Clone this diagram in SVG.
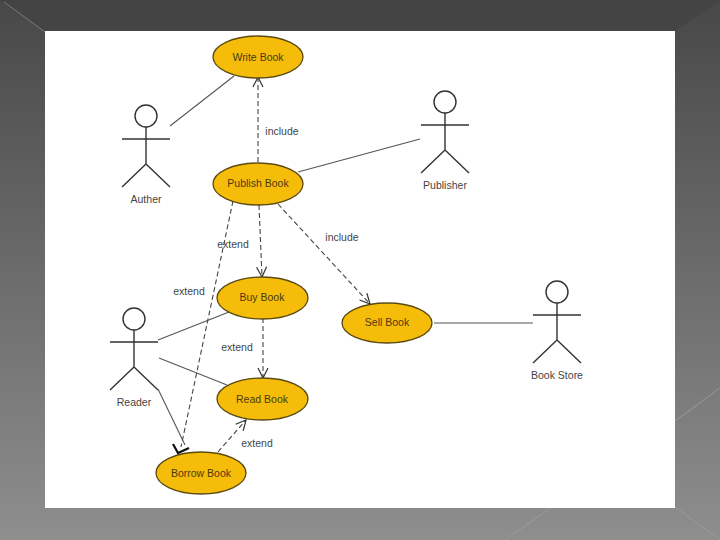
<svg xmlns="http://www.w3.org/2000/svg" width="720" height="540" viewBox="0 0 720 540">
<defs>
<linearGradient id="bg" x1="0" y1="0" x2="0" y2="1"><stop offset="0" stop-color="#484848"/><stop offset="1" stop-color="#8e8e8e"/></linearGradient>
<marker id="open" markerWidth="12" markerHeight="12" refX="11" refY="6" orient="auto" markerUnits="userSpaceOnUse"><path d="M1 1L11 6L1 11" fill="none" stroke="#333" stroke-width="1.2"/></marker>
</defs>
<style>
.uc{fill:#f5bd0a;stroke:#5a4a10;stroke-width:1.3}
.t{font-family:"Liberation Sans",Arial,sans-serif;font-size:10.5px;fill:#444;text-anchor:middle}
.ut{font-family:"Liberation Sans",Arial,sans-serif;font-size:10.5px;fill:#4a3a10;text-anchor:middle}
.a{fill:none;stroke:#333;stroke-width:1.4}
.l{fill:none;stroke:#555;stroke-width:1.1}
.d{fill:none;stroke:#444;stroke-width:1.1;stroke-dasharray:5 3}
.deco{stroke:#9a9a9a;stroke-width:1;fill:none}
</style>
<rect width="720" height="540" fill="url(#bg)"/>
<path d="M0 0H720L675 31H45Z" fill="#444"/>
<path d="M4 2L45 32" class="deco" stroke-opacity=".6"/>
<path d="M675 421L720 388M675 507L720 540M505 540L552 507" class="deco"/>
<rect x="45" y="31" width="630" height="477" fill="#fff"/>
<g id="connectors">
<path class="l" d="M170 126L234 76"/>
<path class="l" d="M298 172L420 139"/>
<path class="l" d="M158 340L229 312"/>
<path class="l" d="M159 358L227 385"/>
<path class="l" d="M158 389L185 445"/>
<path class="l" d="M434 323H533"/>
<path class="d" d="M258 162V77" marker-end="url(#open)"/>
<path class="d" d="M259 205L262 277" marker-end="url(#open)"/>
<path class="d" d="M278 204L370 304" marker-end="url(#open)"/>
<path class="d" d="M263 318V378" marker-end="url(#open)"/>
<path class="d" d="M218 452L246 420" marker-end="url(#open)"/>
<path class="d" d="M233 201L181 447"/>
<path d="M173 444L178 453L189 448" fill="none" stroke="#111" stroke-width="2.2"/>
</g>
<g id="write-book"><ellipse class="uc" cx="258" cy="57" rx="45" ry="21"/><text class="ut" x="258" y="61">Write Book</text></g>
<g id="publish-book"><ellipse class="uc" cx="258" cy="184" rx="45" ry="21"/><text class="ut" x="258" y="187">Publish Book</text></g>
<g id="buy-book"><ellipse class="uc" cx="262.500" cy="298" rx="45.500" ry="21"/><text class="ut" x="262" y="301">Buy Book</text></g>
<g id="read-book"><ellipse class="uc" cx="262.500" cy="399" rx="45.500" ry="21"/><text class="ut" x="262" y="403">Read Book</text></g>
<g id="borrow-book"><ellipse class="uc" cx="201" cy="473" rx="45" ry="21"/><text class="ut" x="201" y="477">Borrow Book</text></g>
<g id="sell-book"><ellipse class="uc" cx="387" cy="323" rx="45" ry="20"/><text class="ut" x="387" y="326">Sell Book</text></g>
<g id="auther"><circle class="a" cx="146" cy="116" r="11"/><path class="a" d="M146 127V164M122 139H170M146 164L122 187M146 164L170 187"/><text class="t" x="146" y="203">Auther</text></g>
<g id="publisher"><circle class="a" cx="445" cy="102" r="11"/><path class="a" d="M445 113V150M421 125H469M445 150L421 173M445 150L469 173"/><text class="t" x="445" y="189">Publisher</text></g>
<g id="reader"><circle class="a" cx="134" cy="319" r="11"/><path class="a" d="M134 330V367M110 342H158M134 367L110 390M134 367L158 390"/><text class="t" x="134" y="406">Reader</text></g>
<g id="book-store"><circle class="a" cx="557" cy="292" r="11"/><path class="a" d="M557 303V340M533 315H581M557 340L533 363M557 340L581 363"/><text class="t" x="557" y="379">Book Store</text></g>
<g id="labels">
<text class="t" x="282" y="135">include</text>
<text class="t" x="233" y="248">extend</text>
<text class="t" x="342" y="241">include</text>
<text class="t" x="189" y="295">extend</text>
<text class="t" x="237" y="351">extend</text>
<text class="t" x="257" y="447">extend</text>
</g>
</svg>
